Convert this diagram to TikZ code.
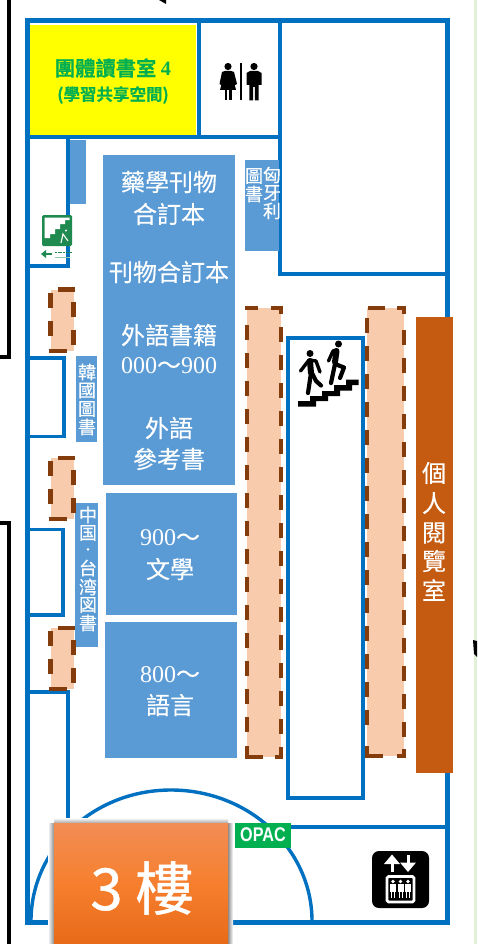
\documentclass[tikz,border=0pt]{standalone}
\usepackage{fontspec}
\setmainfont{Liberation Serif}
\newfontfamily\cjk[FakeBold=0.25]{Noto Sans CJK TC}
\newfontfamily\cjkm[FakeBold=0.8]{Noto Sans CJK TC}
\newfontfamily\cjkh[FakeBold=0.5]{Noto Sans CJK TC Bold}
\newfontfamily\sansb{Liberation Sans}
\definecolor{wall}{HTML}{0070C0}
\definecolor{book}{HTML}{5B9BD5}
\definecolor{shelf}{HTML}{F8CBAD}
\definecolor{dashc}{HTML}{843C0C}
\definecolor{study}{HTML}{C55A11}
\definecolor{opac}{HTML}{00B050}
\definecolor{exitg}{HTML}{1F8A50}
\definecolor{strip}{HTML}{E2F0D9}
\definecolor{roomy}{RGB}{255,255,0}
\definecolor{orA}{RGB}{242,141,84}
\definecolor{orB}{RGB}{246,127,46}
\definecolor{orC}{RGB}{232,106,24}
\tikzset{
  wallline/.style={draw=wall,line width=5pt,line cap=rect,line join=miter},
  wallthin/.style={draw=wall,line width=3.6pt,line cap=rect},
  shelffill/.style={fill=shelf,draw=none},
  seg/.style={draw=dashc,line width=4.3pt,line join=miter},
  bookbox/.style={fill=book,draw=none},
  booktext/.style={text=white,font=\fontsize{24}{31}\selectfont,align=center,inner sep=0pt},
  vtext/.style={text=white,font=\cjk\fontsize{18}{18}\selectfont,align=center,inner sep=0pt},
  ink/.style={fill=black,draw=none},
  limb/.style={draw=black,line width=4.2pt,line cap=round,line join=round},
}
\begin{document}
\begin{tikzpicture}[x=1pt,y=-1pt]
\useasboundingbox (0,0) rectangle (477,944);
\clip (0,0) rectangle (477,944);
\fill[white] (0,0) rectangle (477,944);
\fill[strip] (474,0) rectangle (477,944);
% outside black lines
\draw[black,line width=3.4pt] (9,0) -- (9,357) -- (0,357);
\draw[black,line width=3.4pt] (0,523) -- (9,523) -- (9,944);
\fill[black] (159,0) -- (166,0) -- (166,4) -- cycle;
\fill[black] (473,640) -- (477,641) -- (477,657) -- (474,654) -- cycle;
% yellow room
\fill[roomy] (28,25) rectangle (196,135);
% walls
\draw[wallline] (27.5,21) rectangle (447.5,922);
\draw[wallline,line width=4pt] (199,21) -- (199,137);
\draw[wallline,line width=4pt] (27,137) -- (280,137);
\draw[wallline,line width=4pt] (280,21) -- (280,272);
\draw[wallline,line width=4pt] (280,274) -- (447,274);
\draw[wallline,line width=4pt] (68,137) -- (68,266) -- (27,266);
\draw[wallthin] (27,358) -- (64,358) -- (64,436.5) -- (27,436.5);
\draw[wallthin] (27,529.5) -- (63,529.5) -- (63,615) -- (27,615);
\draw[wallthin] (27,692) -- (68,692) -- (68,820);
\draw[wallthin,line cap=butt] (235,827) -- (447,827);
% arc
\draw[draw=wall,line width=3.4pt] (31,921) .. controls (31,849) and (93,790) .. (171,790) .. controls (249,790) and (312,849) .. (312,921);
% blue book blocks
\fill[book] (70,140) rectangle (86,204);
\node[bookbox,minimum width=132pt,minimum height=330pt,inner sep=0pt] (b1) at (169,320) {};
\node[bookbox,minimum width=131pt,minimum height=122pt,inner sep=0pt] (b2) at (171.5,554) {};
\node[bookbox,minimum width=132pt,minimum height=136pt,inner sep=0pt] (b3) at (171,690) {};
\node[bookbox,minimum width=21pt,minimum height=86pt,inner sep=0pt] (kor) at (86.5,399) {};
\node[bookbox,minimum width=23pt,minimum height=144pt,inner sep=0pt] (chn) at (86.5,575) {};
\node[bookbox,minimum width=34pt,minimum height=91pt,inner sep=0pt] (hun) at (262,205.5) {};
\draw[draw=wall,line width=1.6pt] (279.5,160) -- (279.5,251);
% book text
\node[booktext] at (169,182) {\cjk 藥學刊物};
\node[booktext] at (169,214) {\cjk 合訂本};
\node[booktext] at (169,272) {\cjk 刊物合訂本};
\node[booktext] at (169,335) {\cjk 外語書籍};
\node[booktext] at (169,366) {000{\cjk ～}900};
\node[booktext] at (169,428) {\cjk 外語};
\node[booktext] at (169,459) {\cjk 參考書};
\node[booktext] at (170,538) {900{\cjk ～}};
\node[booktext] at (170,569) {\cjk 文學};
\node[booktext] at (170,675) {800{\cjk ～}};
\node[booktext] at (170,705) {\cjk 語言};
\node[vtext] at (87,372) {韓};
\node[vtext] at (87,390.5) {國};
\node[vtext] at (87,409) {圖};
\node[vtext] at (87,427) {書};
\node[vtext] at (88,515) {中};
\node[vtext] at (88,533) {国};
\node[vtext,font=\cjk\fontsize{12}{12}\selectfont] at (88,551) {・};
\node[vtext] at (88,568) {台};
\node[vtext] at (88,587) {湾};
\node[vtext] at (88,605) {図};
\node[vtext] at (88,623) {書};
\node[vtext] at (272,175) {匈};
\node[vtext] at (272,193) {牙};
\node[vtext] at (272,211) {利};
\node[vtext] at (254,176) {圖};
\node[vtext] at (254,194) {書};
% small shelves
\foreach \t/\b in {289.5/351,458/519,628/689}{
  \fill[shelffill] (50.5,\t) rectangle (73.5,\b);
  \draw[seg] (58,\t) -- (75,\t);
  \draw[seg] (73.5,\t+12) -- (73.5,\t+27);
  \draw[seg] (73.5,\t+40) -- (73.5,\t+55);
  \draw[seg] (49,\b) -- (67,\b);
  \draw[seg] (50.5,\b-30) -- (50.5,\b-15);
  \draw[seg] (50.5,\b-58) -- (50.5,\b-43);
}
% long shelves
\fill[shelffill] (247,308) rectangle (281,757);
\draw[seg] (245,308) -- (258,308);
\draw[seg] (271,308) -- (281,308) -- (281,314);
\foreach \k in {0,...,14}{
  \draw[seg] (247,325+28*\k) -- (247,340+28*\k);
  \draw[seg] (281,327+28*\k) -- (281,342+28*\k);
}
\draw[seg] (247,746) -- (247,757) -- (263,757);
\draw[seg] (275,757) -- (281,757) -- (281,747);
\fill[shelffill] (367,308) rectangle (404,756);
\draw[seg] (368,308) -- (385,308);
\draw[seg] (397,308) -- (404,308) -- (404,314);
\foreach \k in {0,...,14}{
  \draw[seg] (367,318+28*\k) -- (367,333+28*\k);
  \draw[seg] (404,330+28*\k) -- (404,345+28*\k);
}
\draw[seg] (367,746) -- (367,756) -- (383,756);
\draw[seg] (397,756) -- (404,756) -- (404,749);
% stairs room
\draw[wallline,line width=4pt] (288,337.5) rectangle (363,798);
% study room
\node[fill=study,minimum width=37pt,minimum height=456pt,inner sep=0pt] (study) at (434.5,545) {};
\foreach \c/\y in {個/473,人/503,閱/533,覽/561,室/590}
  \node[text=white,font=\cjk\fontsize{24}{24}\selectfont,inner sep=0pt] at (434,\y) {\c};
% yellow room text
\node[text=opac,font=\cjkh\fontsize{20.3}{20}\selectfont,inner sep=0pt] (t1) at (113,68) {團體讀書室 {\fontspec{Liberation Serif}\bfseries 4}};
\node[text=opac,font=\cjkh\fontsize{16.5}{16}\selectfont,inner sep=0pt] (t2) at (113,95) {(學習共享空間)};
% WC icon
\fill[ink] (228,66.5) circle (3.6);
\fill[ink] (225,71) -- (231,71) -- (234,72) -- (237,84) -- (235,85) -- (232.5,76) -- (236,90) -- (220,90) -- (223.5,76) -- (221,85) -- (219.5,84) -- (222,72) -- cycle;
\fill[ink] (224.5,90) rectangle (227.3,100.5);
\fill[ink] (228.8,90) rectangle (231.6,100.5);
\draw[black,line width=2.4pt] (241,63) -- (241,100);
\fill[ink] (254,66.5) circle (3.6);
\fill[ink] (250,71) -- (258,71) -- (261.5,73) -- (261.5,85) -- (258.7,85) -- (258.7,100.5) -- (254.8,100.5) -- (254.8,87) -- (253.2,87) -- (253.2,100.5) -- (249.3,100.5) -- (249.3,85) -- (246.5,85) -- (246.5,73) -- cycle;
% exit sign
\node[fill=exitg,rounded corners=1.5pt,minimum width=30pt,minimum height=31pt,inner sep=0pt] (exit) at (57,230.5) {};
\fill[white] (44.5,217.5) -- (69.5,217.5) -- (69.5,220) -- (65,220) -- (65,224) -- (60,224) -- (60,229) -- (55,229) -- (55,234) -- (50,234) -- (50,238) -- (44.5,238) -- cycle;
\draw[white,line width=1.1pt] (61,243) -- (63,234) -- (68,241);
\fill[white] (66,230.5) circle (1.2);
\draw[exitg,line width=1.6pt] (44,254) -- (52,254);
\fill[exitg] (41,254) -- (46,250) -- (46,258) -- cycle;
\draw[exitg,line width=1.6pt,dash pattern=on 2pt off .7pt] (55,252.5) -- (72,252.5);
\draw[exitg!50,line width=.7pt] (55,257) -- (70,257);
% runners
\fill[ink] (298,401) -- (310,401) -- (310,396) -- (322,396) -- (322,391) -- (334,391) -- (334,385) -- (346,385) -- (346,379.5) -- (358.5,379.5) -- (358.5,385) -- (352,385) -- (352,390.5) -- (340,390.5) -- (340,396) -- (328,396) -- (328,401) -- (316,401) -- (316,406.5) -- (298,406.5) -- cycle;
\fill[ink] (310,353.5) circle (3.5);
\draw[limb,line width=3.4pt] (300.5,371) -- (309,360) -- (316,361) -- (320,372);
\draw[limb,line width=6pt] (310,361) -- (311,373);
\draw[limb] (311,373) -- (308,393);
\draw[limb] (312,373) -- (316,381) -- (321,385.5);
\fill[ink] (338.5,344) circle (3.5);
\draw[limb,line width=3.4pt] (328.5,361) -- (333,351) -- (336,350);
\draw[limb,line width=6pt] (336.5,351) -- (335,362);
\draw[limb] (335,364) -- (344,367.5) -- (340,378);
\draw[limb] (335,364) -- (331,383);
% floor label
\shade[left color=white,right color=black!45] (48,823) rectangle (54,944);
\shade[left color=black!45,right color=white] (228,823) rectangle (233,944);
\shade[top color=white,bottom color=black!35] (54,818) rectangle (228,823);
\shade[top color=orA,bottom color=orB] (54,823) rectangle (228,884);
\shade[top color=orB,bottom color=orC] (54,884) rectangle (228,944);
\node[text=white,font=\cjkm\fontsize{58}{60}\selectfont,inner sep=0pt] (floor) at (142,888) {3 樓};
% OPAC
\node[fill=opac,minimum width=56pt,minimum height=25pt,inner sep=0pt,text=white,font=\sansb\bfseries\fontsize{18}{18}\selectfont] (opacn) at (263,835) {\scalebox{.9}[1.1]{OPAC}};
% elevator
\node[fill=black,rounded corners=7pt,minimum width=57pt,minimum height=57pt,inner sep=0pt] (lift) at (400.5,879.5) {};
\draw[white,line width=3pt] (392,872) -- (392,860);
\fill[white] (392,854.5) -- (400,864) -- (384,864) -- cycle;
\draw[white,line width=3pt] (408,855) -- (408,866);
\fill[white] (408,872) -- (416,862.5) -- (400,862.5) -- cycle;
\draw[white,line width=2.6pt,rounded corners=1.5pt] (387,876.5) rectangle (414,902);
\foreach \x in {393,400.5,408}{
  \fill[white] (\x,881.5) circle (1.8);
  \fill[white] (\x-3,884) rectangle (\x+3,892);
  \draw[white,line width=.9pt] (\x-1.5,892) -- (\x-1.5,898);
  \draw[white,line width=.9pt] (\x+1.5,892) -- (\x+1.5,898);
}
\end{tikzpicture}
\end{document}
